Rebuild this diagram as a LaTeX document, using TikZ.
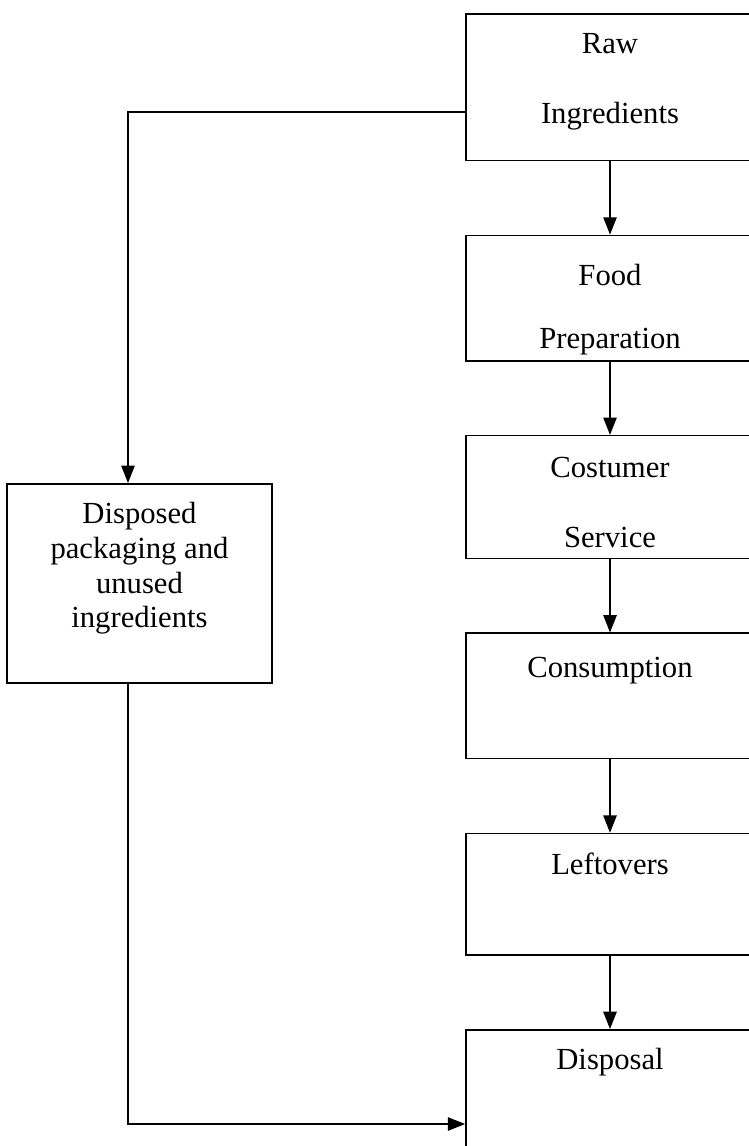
\documentclass[tikz,border=0pt]{standalone}
\usepackage{fontspec}
\setmainfont{Liberation Serif}
\usetikzlibrary{positioning,arrows.meta}
\newcommand{\lines}[1]{\begin{tabular}[t]{@{}c@{}}#1\end{tabular}}

\begin{document}
\begin{tikzpicture}[
        x=0.75pt, y=-0.75pt,
        node distance=55pt,
        >={Triangle[length=13pt,width=10pt]},
        line width=1.2pt,
        every node/.style={draw, rectangle, minimum width=216pt, inner sep=0pt, font=\fontsize{23}{26}\selectfont}
    ]
        \useasboundingbox (0,0) rectangle (749,1146);

        \node[anchor=north, text height=30pt, text depth=80pt] (raw) at (610,13) {\lines{Raw\\[26pt]Ingredients}};
        \node[below=of raw, text height=37.5pt, text depth=56.5pt] (prep) {\lines{Food\\[21pt]Preparation}};
        \node[below=of prep, text height=31pt, text depth=61pt] (serv) {\lines{Costumer\\[27pt]Service}};
        \node[below=of serv, text height=33pt, text depth=61pt] (cons) {Consumption};
        \node[below=of cons, text height=31pt, text depth=60pt] (left) {Leftovers};
        \node[below=of left, text height=30pt, text depth=75pt] (disp) {Disposal};
        \node[anchor=north, minimum width=198.75pt, text height=30pt, text depth=119.25pt] (pack) at (139.5,483) {\lines{Disposed\\packaging and\\unused\\ingredients}};

        \coordinate (split) at (128,112);
        \coordinate (bend) at (128,1124);

        \draw[->] (raw) -- (prep);
        \draw[->] (prep) -- (serv);
        \draw[->] (serv) -- (cons);
        \draw[->] (cons) -- (left);
        \draw[->] (left) -- (disp);
        \draw[->] (raw.west |- split) -- (split) -- (split |- pack.north);
        \draw[->] (bend |- pack.south) -- (bend) -- (bend -| disp.west);
    \end{tikzpicture}
\end{document}
